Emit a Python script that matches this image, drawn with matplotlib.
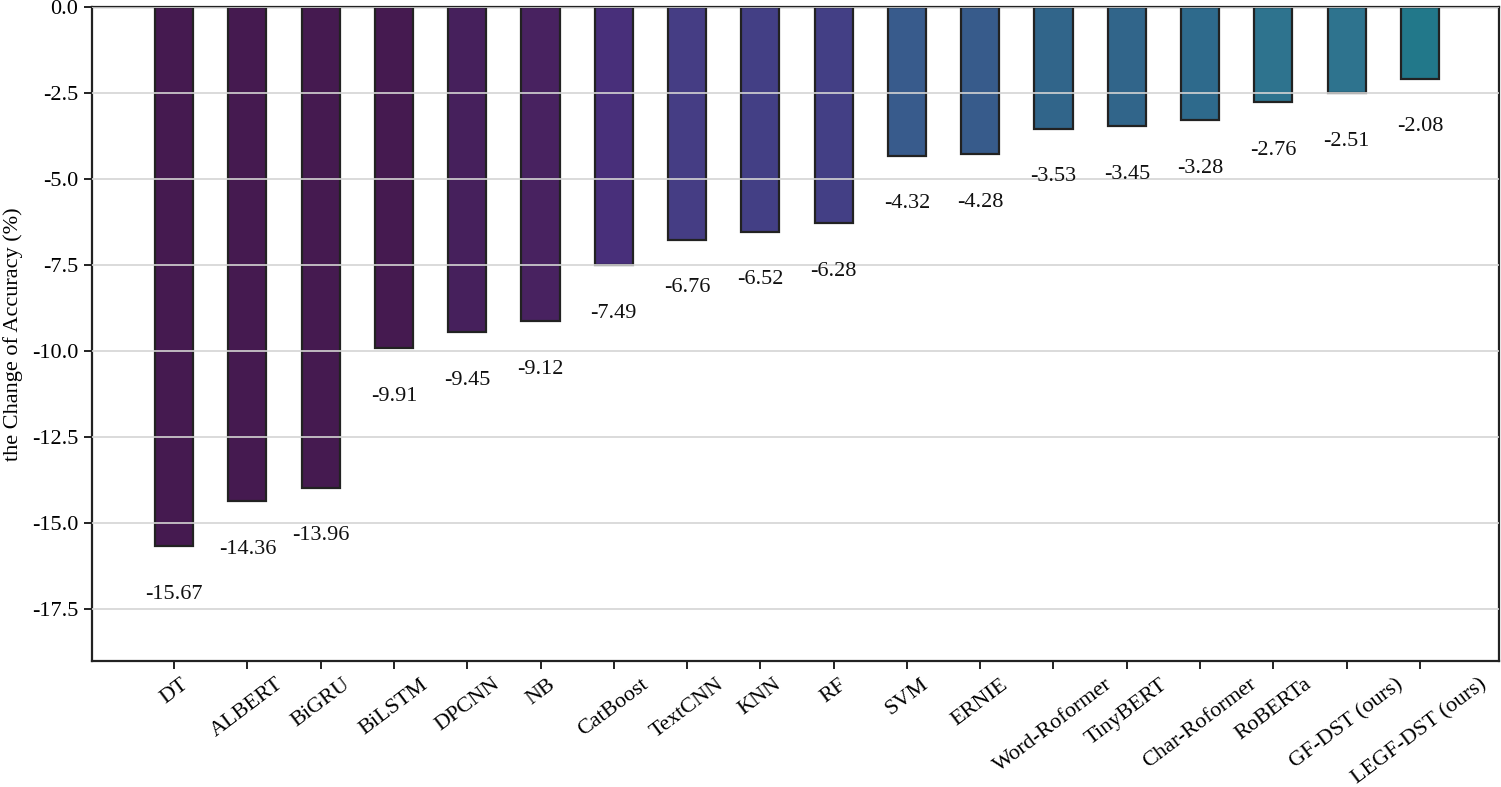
import matplotlib
matplotlib.use("Agg")
import matplotlib.pyplot as plt

models = ["DT", "ALBERT", "BiGRU", "BiLSTM", "DPCNN", "NB", "CatBoost", "TextCNN",
          "KNN", "RF", "SVM", "ERNIE", "Word-Roformer", "TinyBERT", "Char-Roformer",
          "RoBERTa", "GF-DST (ours)", "LEGF-DST (ours)"]
changes = [-15.67, -14.36, -13.96, -9.91, -9.45, -9.12, -7.49, -6.76, -6.52, -6.28,
           -4.32, -4.28, -3.53, -3.45, -3.28, -2.76, -2.51, -2.08]
yticks = [0.0, -2.5, -5.0, -7.5, -10.0, -12.5, -15.0, -17.5]

bar_colors = ["#451a50", "#451a50", "#451a50", "#451a50", "#46205c", "#482260",
              "#482f7a", "#453d84", "#433f85", "#433f85", "#385b8c", "#375b8b",
              "#31658a", "#31658a", "#2e6a8c", "#2e738e", "#2e738e", "#22788a"]

plt.rcParams["font.family"] = ["Liberation Serif", "DejaVu Serif"]

fig = plt.figure(figsize=(15.01, 7.87), dpi=100)
ax = fig.add_axes([0.0613, 0.160, 0.9374, 0.831])

x = list(range(len(models)))
ax.bar(x, changes, width=0.52, color=bar_colors, edgecolor="#222222", linewidth=1.6, zorder=2)

for xi, v in zip(x, changes):
    ax.text(xi, v - 1.4, f"{v:.2f}", ha="center", va="center", fontsize=16, color="#111111", zorder=4)

ax.set_ylim(-19.0, 0.0)
ax.set_xlim(-1.12, 18.08)
ax.set_yticks(yticks)
ax.set_yticklabels([f"{t:.1f}" for t in yticks], fontsize=16)
ax.set_xticks(x)
ax.set_xticklabels(models, rotation=37, ha="center", fontsize=16)
ax.set_ylabel("the Change of Accuracy (%)", fontsize=16, labelpad=6)

ax.yaxis.grid(True, color="#d4d4d4", linewidth=1.2, zorder=3)
ax.set_axisbelow(False)
for s in ax.spines.values():
    s.set_color("#222222")
    s.set_linewidth(1.6)
ax.tick_params(axis="both", direction="out", length=6, width=1.4, color="#222222", pad=4)

fig.savefig("out.png", dpi=100)
